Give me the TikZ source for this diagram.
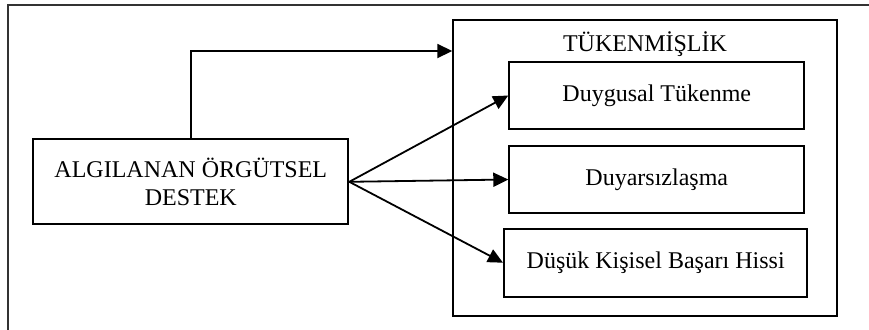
\documentclass[tikz,border=0pt]{standalone}
\usepackage{fontspec}
\setmainfont{Liberation Serif}
\usetikzlibrary{arrows.meta}
\begin{document}
\begin{tikzpicture}[x=0.5pt,y=-0.5pt,
  box/.style={draw,line width=1pt,inner sep=0pt,align=center,font=\fontsize{12pt}{13.6pt}\selectfont},
  arr/.style={line width=0.9pt,-{Triangle[length=7.5pt,width=7pt]}},
  frame/.style={draw=black!80,line width=0.8pt}]
\useasboundingbox (0,0) rectangle (869,329);
\draw[frame] (8,340) -- (8,5) -- (880,5);
\node[box,minimum width=191.7pt,minimum height=147.9pt] (tuk) at (645,167.9) {};
\node[font=\fontsize{12pt}{13.6pt}\selectfont,inner sep=0pt] (tukt) at (645,44) {TÜKENMİŞLİK};
\node[box,minimum width=157.5pt,minimum height=42.5pt] (alg) at (190.8,181.8) {ALGILANAN ÖRGÜTSEL\\DESTEK};
\node[box,minimum width=147.5pt,minimum height=33.8pt] (duy) at (656.8,95.5) {Duygusal Tükenme};
\node[box,minimum width=147.5pt,minimum height=33.8pt] (dyr) at (656.8,179.5) {Duyarsızlaşma};
\node[box,minimum width=151.7pt,minimum height=34pt] (dus) at (655.7,262.7) {Düşük Kişisel Başarı Hissi};
\coordinate (bend) at (190.8,51);
\draw[arr] (alg.north) -- (alg.north |- bend) -- (tuk.west |- bend);
\draw[arr] (alg.east) -- (duy.west);
\draw[arr] (alg.east) -- (dyr.west);
\draw[arr] (alg.east) -- (dus.west);
\end{tikzpicture}
\end{document}
